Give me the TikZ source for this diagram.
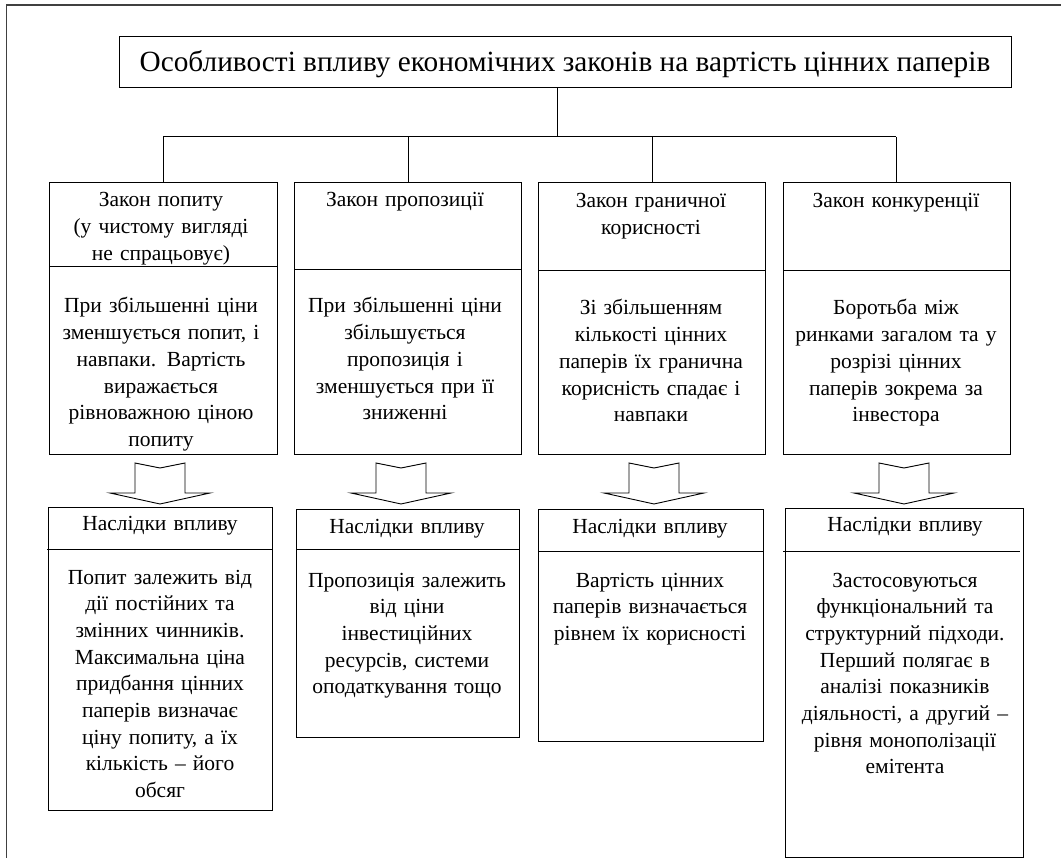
\documentclass[tikz,border=0pt]{standalone}
\usepackage{fontspec}
\setmainfont{Liberation Serif}
\begin{document}
\begin{tikzpicture}[x=1pt,y=-1pt,
  frame/.style={draw, line width=1pt, anchor=north west, inner sep=0pt},
  txt/.style={anchor=base, inner sep=0pt, text width=250pt, align=center,
    font=\fontsize{21.5}{26.7}\selectfont},
  ttl/.style={anchor=base, inner sep=0pt, font=\fontsize{29.3}{34}\selectfont},
  conn/.style={line width=1pt},
  blockarr/.pic={\draw[line width=0.9pt] (-25,0) -- (0,5) -- (25,0) -- (25,30) -- (50,30) -- (0,41) -- (-50,30) -- (-25,30) -- cycle;}
]
\useasboundingbox (0,0) rectangle (1061,858);
% outer frame
\draw[line width=1.6pt, black!75] (6.5,858) -- (6.5,5) -- (1061,5);

% title
\node[frame, minimum width=892pt, minimum height=51pt] (title) at (119,36) {};
\node[ttl] (ttltext) at (565,72) {Особливості впливу економічних законів на вартість цінних паперів};

% top boxes
\node[frame, minimum width=228pt, minimum height=272pt] (b1) at (49,182) {};
\node[frame, minimum width=227pt, minimum height=272pt] (b2) at (294,182) {};
\node[frame, minimum width=227pt, minimum height=272pt] (b3) at (538,182) {};
\node[frame, minimum width=227pt, minimum height=272pt] (b4) at (783,182) {};
\draw[conn] (b1.west |- 0,267) -- (b1.east |- 0,267);
\draw[conn] (b2.west |- 0,270) -- (b2.east |- 0,270);
\draw[conn] (b3.west |- 0,271) -- (b3.east |- 0,271);
\draw[conn] (b4.west |- 0,271) -- (b4.east |- 0,271);

% connectors
\coordinate (j) at (557,137);
\coordinate (jl) at (163,137);
\coordinate (jr) at (896,137);
\draw[conn] (j |- title.south) -- (j);
\draw[conn] (jl) -- (jr);
\draw[conn] (jl) -- (jl |- b1.north);
\draw[conn] (408,137) -- (408,0 |- b2.north);
\draw[conn] (652,137) -- (652,0 |- b3.north);
\draw[conn] (jr) -- (jr |- b4.north);

% top texts
\node[txt] (h1) at (161,207) {Закон попиту\\(у чистому вигляді\\не спрацьовує)};
\node[txt] (t1) at (161,313) {При збільшенні ціни\\зменшується попит, і\\навпаки. Вартість\\виражається\\рівноважною ціною\\попиту};
\node[txt] (h2) at (405,207) {Закон пропозиції};
\node[txt] (t2) at (405,313) {При збільшенні ціни\\збільшується\\пропозиція і\\зменшується при її\\зниженні};
\node[txt] (h3) at (651,208) {Закон граничної\\корисності};
\node[txt] (t3) at (651,315) {Зі збільшенням\\кількості цінних\\паперів їх гранична\\корисність спадає і\\навпаки};
\node[txt] (h4) at (896,208) {Закон конкуренції};
\node[txt] (t4) at (896,315) {Боротьба між\\ринками загалом та у\\розрізі цінних\\паперів зокрема за\\інвестора};

% block arrows
\pic at (160,463) {blockarr};
\pic at (401,463) {blockarr};
\pic at (654,463) {blockarr};
\pic at (904,463) {blockarr};

% bottom boxes
\node[frame, minimum width=224pt, minimum height=303pt] (c1) at (48,507) {};
\node[frame, minimum width=223pt, minimum height=228pt] (c2) at (296,509) {};
\node[frame, minimum width=225pt, minimum height=232pt] (c3) at (538,509) {};
\node[frame, minimum width=238pt, minimum height=349pt] (c4) at (785,508) {};
\draw[conn] (47,549) -- (c1.east |- 0,549);
\draw[conn] (c2.west |- 0,549) -- (c2.east |- 0,549);
\draw[conn] (c3.west |- 0,551) -- (c3.east |- 0,551);
\draw[conn] (783,551) -- (1020,551);

% bottom texts
\node[txt] (g1) at (160,531) {Наслідки впливу};
\node[txt] (u1) at (160,584) {Попит залежить від\\дії постійних та\\змінних чинників.\\Максимальна ціна\\придбання цінних\\паперів визначає\\ціну попиту, а їх\\кількість – його\\обсяг};
\node[txt] (g2) at (407,533) {Наслідки впливу};
\node[txt] (u2) at (407,587) {Пропозиція залежить\\від ціни\\інвестиційних\\ресурсів, системи\\оподаткування тощо};
\node[txt] (g3) at (650,533) {Наслідки впливу};
\node[txt] (u3) at (650,587) {Вартість цінних\\паперів визначається\\рівнем їх корисності};
\node[txt] (g4) at (905,532) {Наслідки впливу};
\node[txt] (u4) at (905,587) {Застосовуються\\функціональний та\\структурний підходи.\\Перший полягає в\\аналізі показників\\діяльності, а другий –\\рівня монополізації\\емітента};
\end{tikzpicture}
\end{document}
